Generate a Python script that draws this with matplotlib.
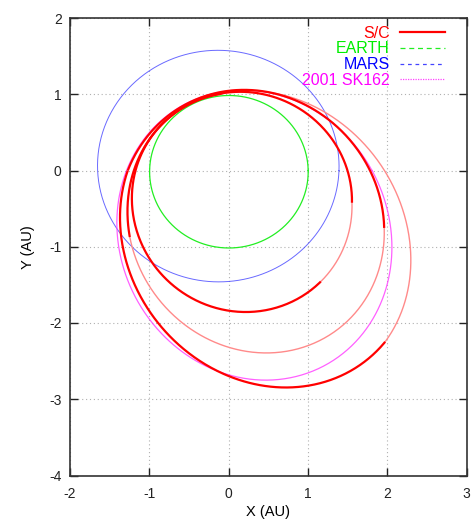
import numpy as np
import matplotlib
matplotlib.use('Agg')
import matplotlib.pyplot as plt
from matplotlib.lines import Line2D

# ---- data ----
# planetary / asteroid orbits: semi-major axis [AU], eccentricity, longitude of perihelion [deg]
earth_orbit = dict(a=1.0, e=0.0167, w=103.0)
mars_orbit = dict(a=1.524, e=0.0934, w=336.0)
ast_orbit = dict(a=1.93, e=0.47, w=111.0)

# S/C trajectory: osculating elements at nodes along the cumulative polar angle
sc_theta = [95.0, 308.6, 344.8, 575.0, 699.0, 900.0, 1031.3, 1170.0]   # deg
sc_p = [1.31, 1.31, 1.31, 1.43, 1.43, 1.50, 1.489, 1.489]               # AU
sc_e = [0.31, 0.31, 0.31, 0.43, 0.43, 0.46, 0.516, 0.516]
sc_w = [112.0, 112.0, 112.0, 117.0, 117.0, 113.0, 118.0, 118.0]          # deg
sc_thrust = [True, False, True, False, True, True, False]               # per segment

x_ticks = [-2, -1, 0, 1, 2, 3]
y_ticks = [-4, -3, -2, -1, 0, 1, 2]
labels = ['S/C', 'EARTH', 'MARS', '2001 SK162']

# ---- colours ----
c_sc = '#ff0000'
c_coast = '#ff8a8a'
c_earth = '#22ee22'
c_mars = '#4444ff'
c_ast = '#ff44ff'


def conic_xy(theta_deg, p, e, w):
    th = np.radians(theta_deg)
    r = p / (1.0 + e * np.cos(th - np.radians(w)))
    return r * np.cos(th), r * np.sin(th)


def orbit_xy(o, n=721):
    th = np.linspace(0, 360, n)
    p = o['a'] * (1 - o['e'] ** 2)
    return conic_xy(th, p, o['e'], o['w'])


plt.rcParams['font.family'] = ['Liberation Sans', 'DejaVu Sans']

fig = plt.figure(figsize=(4.71, 5.24), dpi=100)
ax = fig.add_axes([70 / 471, 1 - 475.5 / 524, (466.5 - 70) / 471, (475.5 - 18) / 524])

ax.plot(*orbit_xy(earth_orbit), color=c_earth, lw=0.9, zorder=3)
ax.plot(*orbit_xy(mars_orbit), color=c_mars, lw=0.7, alpha=0.8, zorder=3)

# S/C segments
for i, thrust in enumerate(sc_thrust):
    t = np.linspace(sc_theta[i], sc_theta[i + 1], 300)
    f = (t - sc_theta[i]) / (sc_theta[i + 1] - sc_theta[i])
    p = sc_p[i] + f * (sc_p[i + 1] - sc_p[i])
    e = sc_e[i] + f * (sc_e[i + 1] - sc_e[i])
    w = sc_w[i] + f * (sc_w[i + 1] - sc_w[i])
    x, y = conic_xy(t, p, e, w)
    if thrust:
        ax.plot(x, y, color=c_sc, lw=1.6, solid_capstyle='butt', zorder=5)
    else:
        ax.plot(x, y, color=c_coast, lw=1.0, zorder=4)

ax.plot(*orbit_xy(ast_orbit), color=c_ast, lw=0.9, alpha=0.85, zorder=4.5)

ax.set_xlim(-2, 3)
ax.set_ylim(-4, 2)
ax.set_xticks(x_ticks)
ax.set_yticks(y_ticks)
ax.set_xticklabels([str(v) for v in x_ticks])
ax.set_yticklabels([str(v) for v in y_ticks])
ax.grid(True, color='#b0b0b0', lw=0.8, linestyle=(0, (1, 2.5)))
ax.tick_params(direction='in', length=6, width=1.0, top=True, right=True,
               labelsize=10, colors='#222222')
ax.tick_params(axis='x', pad=8)
ax.tick_params(axis='y', pad=6)
for s in ax.spines.values():
    s.set_color('#333333')
    s.set_linewidth(1.2)
ax.set_xlabel('X (AU)', fontsize=10.5, labelpad=3)
ax.set_ylabel('Y (AU)', fontsize=10.5, labelpad=10)

handles = [
    Line2D([], [], color=c_sc, lw=1.6),
    Line2D([], [], color=c_earth, lw=0.9, linestyle=(0, (4, 3))),
    Line2D([], [], color=c_mars, lw=0.9, linestyle=(0, (3, 3))),
    Line2D([], [], color=c_ast, lw=0.9, linestyle=(0, (1, 1))),
]
leg = ax.legend(handles, labels, loc='upper right', frameon=False, markerfirst=False,
                fontsize=11.5, handlelength=2.85, handletextpad=0.62, labelspacing=0.05,
                borderaxespad=0.3, bbox_to_anchor=(0.975, 1.008))
for txt, col in zip(leg.get_texts(), [c_sc, '#00ee00', '#0000ff', '#ff00ff']):
    txt.set_color(col)

fig.savefig('out.png', dpi=100)
